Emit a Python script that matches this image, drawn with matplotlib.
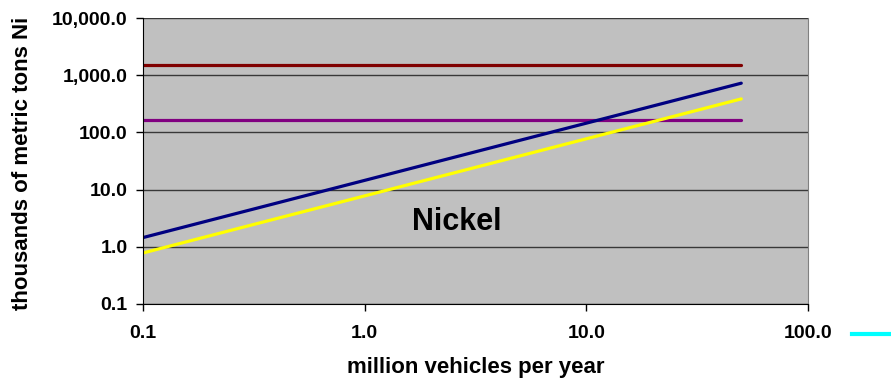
import matplotlib
matplotlib.use('Agg')
import matplotlib.pyplot as plt
from matplotlib.ticker import FuncFormatter, FixedLocator, NullLocator
from matplotlib.lines import Line2D

plt.rcParams['font.family'] = ['Liberation Sans', 'DejaVu Sans']
plt.rcParams['font.weight'] = 'bold'

# vehicles (million per year) and nickel demand / supply (thousand metric tons)
vehicles = [0.1, 50.0]
demand_high = [1.45, 725.0]
demand_low = [0.78, 385.0]
reserve_level = [1500.0, 1500.0]
production_level = [162.0, 162.0]

x_ticks = [0.1, 1.0, 10.0, 100.0]
y_ticks = [0.1, 1.0, 10.0, 100.0, 1000.0, 10000.0]

fig = plt.figure(figsize=(8.91, 3.82), dpi=100)
ax = fig.add_axes([143 / 891, 1 - 304 / 382, 665 / 891, 286 / 382])
ax.set_facecolor('#C0C0C0')

ax.plot(vehicles, reserve_level, color='#800000', lw=2.3, solid_capstyle='round')
ax.plot(vehicles, production_level, color='#800080', lw=2.3, solid_capstyle='round')
ax.plot(vehicles, demand_high, color='#000080', lw=2.3, solid_capstyle='round')
ax.plot(vehicles, demand_low, color='#FFFF00', lw=2.3, solid_capstyle='round')

ax.set_xscale('log')
ax.set_yscale('log')
ax.set_xlim(0.1, 100)
ax.set_ylim(0.1, 10000)

ax.xaxis.set_major_locator(FixedLocator(x_ticks))
ax.yaxis.set_major_locator(FixedLocator(y_ticks))
ax.xaxis.set_minor_locator(NullLocator())
ax.yaxis.set_minor_locator(NullLocator())
ax.xaxis.set_major_formatter(FuncFormatter(lambda v, p: f'{v:.1f}'))
ax.yaxis.set_major_formatter(FuncFormatter(lambda v, p: f'{v:,.1f}'))
ax.tick_params(axis='both', direction='out', length=5, width=1, labelsize=14)
ax.tick_params(axis='x', pad=10)
ax.tick_params(axis='y', pad=6)

ax.grid(axis='y', color='#383838', lw=1)
ax.set_axisbelow(True)
ax.spines['top'].set_visible(False)
ax.spines['right'].set_color('#808080')
ax.spines['left'].set_color('black')
ax.spines['bottom'].set_color('black')

ax.set_xlabel('million vehicles per year', fontsize=16, fontweight='bold', va='center')
ax.set_ylabel('thousands of metric tons Ni', fontsize=16, fontweight='bold', va='center')
ax.xaxis.set_label_coords(0.5, (304 - 368) / 286)
ax.yaxis.set_label_coords((23 - 143) / 665, 0.49)

ax.text(2.6, 2.7, 'Nickel', fontsize=22, fontweight='bold', ha='center', va='center')

# legend sits mostly outside the canvas; only its first key shows
handle = Line2D([], [], color='#00FFFF', lw=3)
fig.legend([handle], [' '], loc='center left', bbox_to_anchor=(846 / 891, 1 - 335 / 382),
           frameon=False, handlelength=4, fontsize=10, borderaxespad=0)

fig.savefig('out.png', dpi=100)
